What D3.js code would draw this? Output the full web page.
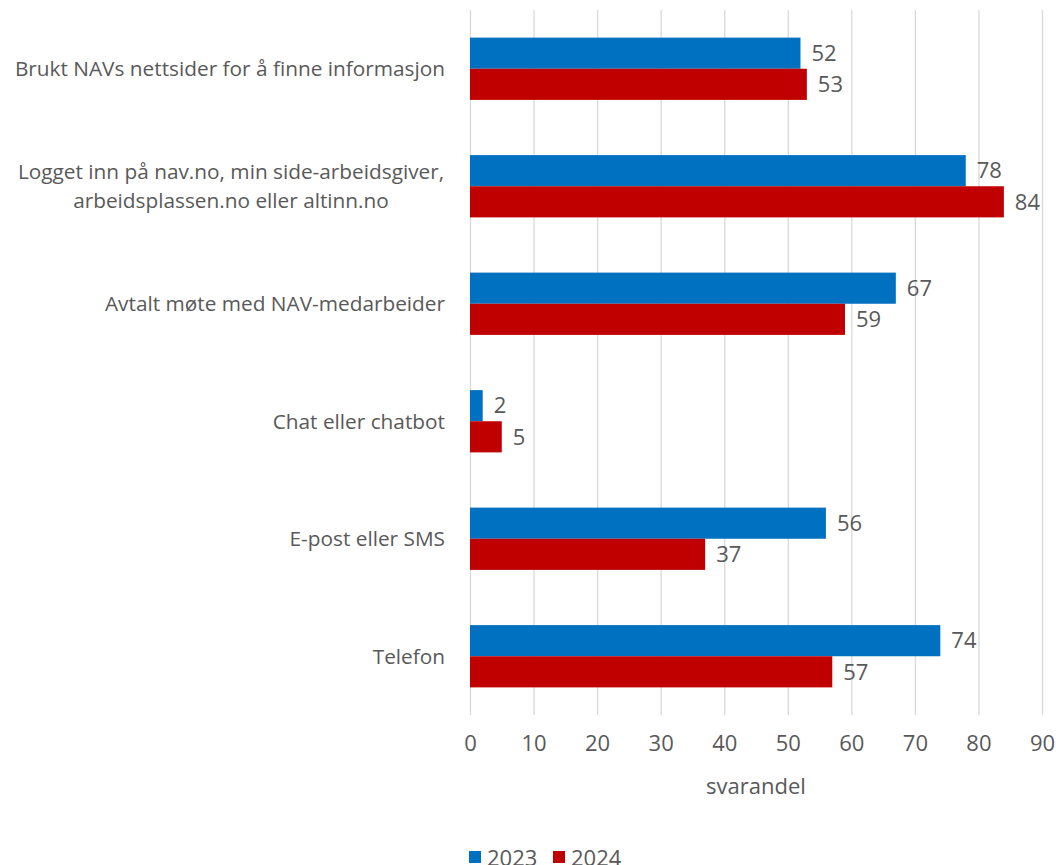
<!DOCTYPE html>
<html>
<head>
<meta charset="utf-8">
<script src="https://cdn.jsdelivr.net/npm/d3@7"></script>
<style>
  body { margin: 0; background: #fff; }
  text { font-family: "Open Sans", Lato, sans-serif; fill: #595959; }
</style>
</head>
<body>
<div id="chart"></div>
<script>
var categories = [
  "Brukt NAVs nettsider for å finne informasjon",
  "Logget inn på nav.no, min side-arbeidsgiver,|arbeidsplassen.no eller altinn.no",
  "Avtalt møte med NAV-medarbeider",
  "Chat eller chatbot",
  "E-post eller SMS",
  "Telefon"
];
var series = ["2023", "2024"];
var values2023 = [52, 78, 67, 2, 56, 74];
var values2024 = [53, 84, 59, 5, 37, 57];
var xTicks = [0, 10, 20, 30, 40, 50, 60, 70, 80, 90];
var colors = ["#0070C0", "#C00000"];

var width = 1056, height = 865;
var plotLeft = 470, plotRight = 1042, plotTop = 10, plotBottom = 715;
var fontSize = "22px", catFontSize = "20.8px";

var svg = d3.select("#chart").append("svg")
    .attr("width", width)
    .attr("height", height);

var x = d3.scaleLinear().domain([0, 90]).range([plotLeft, plotRight]);

var y = d3.scaleBand()
    .domain(categories)
    .range([plotTop, plotBottom])
    .paddingInner(0.47)
    .paddingOuter(0.235);

var ySub = d3.scaleBand()
    .domain(series)
    .range([0, y.bandwidth()]);

// gridlines
svg.append("g")
    .attr("transform", "translate(0," + plotBottom + ")")
    .call(d3.axisBottom(x).tickValues(xTicks).tickSize(-(plotBottom - plotTop)).tickFormat(""))
    .call(function(g) { g.select(".domain").remove(); })
    .selectAll("line")
    .attr("stroke", "#d9d9d9")
    .attr("stroke-width", 1.3);

// tick labels
svg.append("g")
    .attr("transform", "translate(0," + 732 + ")")
    .call(d3.axisBottom(x).tickValues(xTicks).tickSize(0))
    .call(function(g) { g.select(".domain").remove(); })
    .selectAll("text")
    .style("font-size", fontSize)
    .attr("dy", "0.71em");

var rows = categories.map(function(c, i) {
  return {cat: c, vals: [values2023[i], values2024[i]]};
});

var group = svg.append("g").selectAll("g.grp")
  .data(rows)
  .enter().append("g")
    .attr("class", "grp")
    .attr("transform", function(d) { return "translate(0," + y(d.cat) + ")"; });

group.selectAll("rect")
  .data(function(d) { return d.vals.map(function(v, i) { return {s: series[i], v: v, i: i}; }); })
  .enter().append("rect")
    .attr("x", x(0))
    .attr("y", function(d) { return ySub(d.s); })
    .attr("width", function(d) { return x(d.v) - x(0); })
    .attr("height", ySub.bandwidth())
    .attr("fill", function(d) { return colors[d.i]; });

group.selectAll("text.val")
  .data(function(d) { return d.vals.map(function(v, i) { return {s: series[i], v: v}; }); })
  .enter().append("text")
    .attr("class", "val")
    .attr("x", function(d) { return x(d.v) + 11; })
    .attr("y", function(d) { return ySub(d.s) + ySub.bandwidth() / 2; })
    .attr("dy", "0.35em")
    .style("font-size", fontSize)
    .text(function(d) { return d.v; });

// category labels
group.append("text")
    .style("font-size", catFontSize)
    .each(function(d) {
      var lines = d.cat.split("|");
      var t = d3.select(this);
      var mid = y.bandwidth() / 2;
      // two-line labels are centred on the widest line, like Excel does
      t.attr("text-anchor", lines.length > 1 ? "middle" : "end");
      lines.forEach(function(l, i) {
        t.append("tspan")
          .attr("x", lines.length > 1 ? 231 : 445)
          .attr("y", mid + (i - (lines.length - 1) / 2) * 29)
          .attr("dy", "0.35em")
          .text(l);
      });
    });

// axis title
svg.append("text")
    .attr("x", (plotLeft + plotRight) / 2)
    .attr("y", 786)
    .attr("dy", "0.35em")
    .attr("text-anchor", "middle")
    .style("font-size", fontSize)
    .text("svarandel");

// legend
var legend = svg.append("g").selectAll("g")
  .data(series)
  .enter().append("g")
    .attr("transform", function(d, i) { return "translate(" + (469 + i * 84) + ",851)"; });

legend.append("rect")
    .attr("width", 12)
    .attr("height", 12)
    .attr("fill", function(d, i) { return colors[i]; });

legend.append("text")
    .attr("x", 18)
    .attr("y", 7)
    .attr("dy", "0.35em")
    .style("font-size", fontSize)
    .text(function(d) { return d; });
</script>
</body>
</html>
